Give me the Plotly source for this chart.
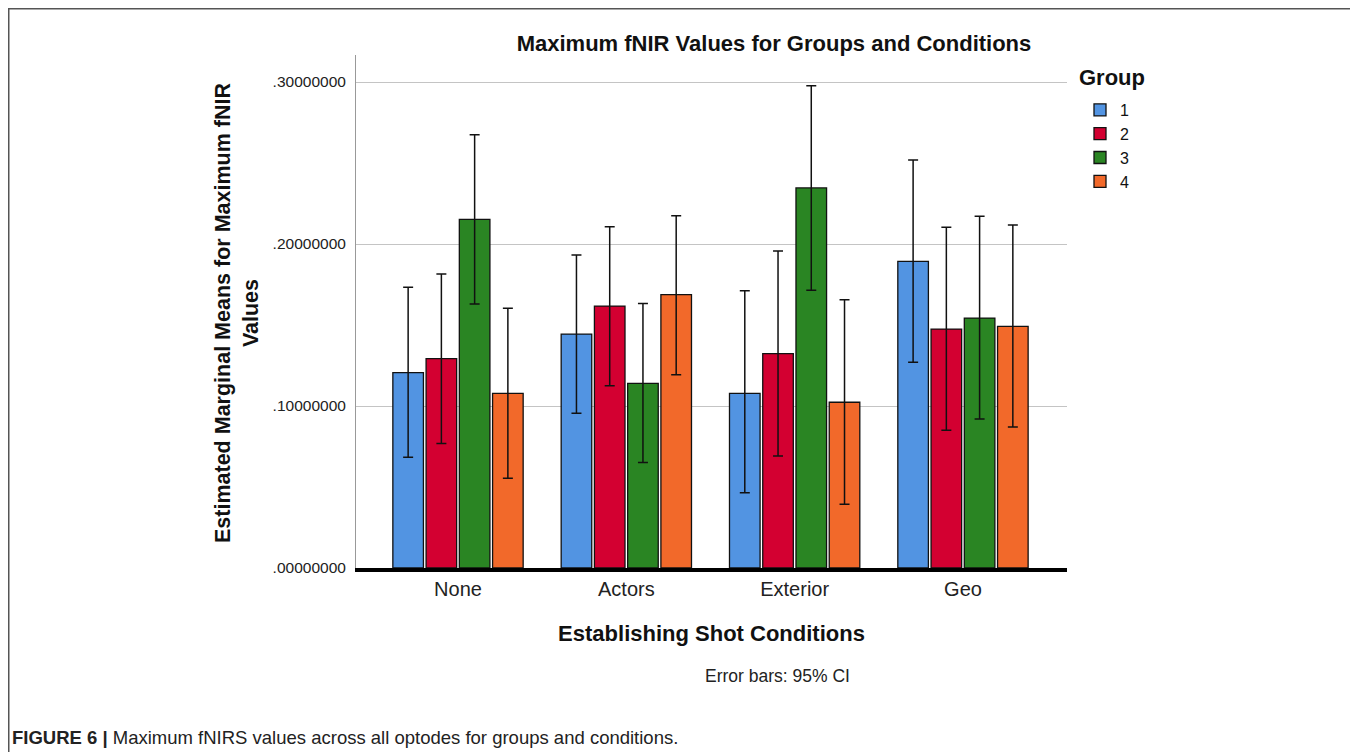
import plotly.graph_objects as go

# ---- data ----
conditions = ["None", "Actors", "Exterior", "Geo"]
groups = ["1", "2", "3", "4"]
means = {
    "1": [0.1206, 0.1444, 0.1078, 0.1893],
    "2": [0.1292, 0.1617, 0.1323, 0.1475],
    "3": [0.2152, 0.1140, 0.2346, 0.1543],
    "4": [0.1078, 0.1687, 0.1023, 0.1492],
}
ci_upper = {
    "1": [0.1733, 0.1932, 0.1712, 0.2519],
    "2": [0.1815, 0.2107, 0.1957, 0.2103],
    "3": [0.2675, 0.1632, 0.2977, 0.2171],
    "4": [0.1603, 0.2175, 0.1656, 0.2117],
}
ci_lower = {
    "1": [0.0683, 0.0955, 0.0465, 0.1270],
    "2": [0.0768, 0.1125, 0.0691, 0.0850],
    "3": [0.1630, 0.0652, 0.1714, 0.0920],
    "4": [0.0554, 0.1193, 0.0393, 0.0870],
}
y_tickvals = [0.0, 0.1, 0.2, 0.3]
y_ticktext = [".00000000", ".10000000", ".20000000", ".30000000"]

colors = {"1": "#5294e2", "2": "#d30031", "3": "#2a8523", "4": "#f2692a"}

# ---- layout geometry (reference-page pixels; page body has an 8px margin) ----
OFF = 8
W, H = 1358 - OFF, 752 - OFF
L, R, T, B = 356, 1067, 55, 568  # page pixels of the plot area
PW, PH = R - L, B - T


def px(x):
    return (x - L) / PW


def py(y):
    return (B - y) / PH


FONT = "Liberation Sans, Arial, sans-serif"

fig = go.Figure()
for g in groups:
    fig.add_trace(go.Bar(
        name=g,
        x=conditions,
        y=means[g],
        marker=dict(color=colors[g], line=dict(color="#111111", width=1.3)),
        error_y=dict(
            type="data",
            symmetric=False,
            array=[u - m for u, m in zip(ci_upper[g], means[g])],
            arrayminus=[m - lo for m, lo in zip(means[g], ci_lower[g])],
            color="#111111",
            thickness=1.5,
            width=5,
        ),
    ))

fig.update_layout(
    width=W,
    height=H,
    paper_bgcolor="white",
    plot_bgcolor="white",
    margin=dict(l=L - OFF, r=W - (R - OFF), t=T - OFF, b=H - (B - OFF), autoexpand=False),
    barmode="group",
    bargap=0.21,
    bargroupgap=0.08,
    font=dict(family=FONT, color="#111111"),
    showlegend=True,
    legend=dict(
        x=px(1080), y=py(93), xanchor="left", yanchor="top",
        font=dict(size=16, family=FONT, color="#111111"),
        bgcolor="rgba(0,0,0,0)",
        tracegroupgap=0,
        itemwidth=30,
    ),
    xaxis=dict(
        type="category",
        range=[-0.606, 3.618],
        showline=True, linecolor="#000000", linewidth=4,
        showgrid=False, ticks="",
        tickfont=dict(size=20, family=FONT, color="#222222"),
        title=dict(text="<b>Establishing Shot Conditions</b>",
                   font=dict(size=22, family=FONT, color="#111111"),
                   standoff=28),
        zeroline=False,
    ),
    yaxis=dict(
        range=[0, (B - T) / 1620],
        tickvals=y_tickvals,
        ticktext=y_ticktext,
        tickfont=dict(size=15.5, family=FONT, color="#222222"),
        showgrid=True, gridcolor="#c4c4c4", gridwidth=1,
        showline=True, linecolor="#999999", linewidth=1,
        ticks="", ticklabelstandoff=6,
        zeroline=False,
    ),
    title=dict(
        text="<b>Maximum fNIR Values for Groups and Conditions</b>",
        x=px(774), xanchor="center", y=1 - (43 - OFF) / H, yanchor="middle",
        xref="paper",
        font=dict(size=22, family=FONT, color="#111111"),
    ),
)

annotations = [
    dict(text="<b>Estimated Marginal Means for Maximum fNIR<br>Values</b>",
         x=px(237), y=py(313), xref="paper", yref="paper",
         textangle=-90, showarrow=False, align="center",
         xanchor="center", yanchor="middle",
         font=dict(size=21.5, family=FONT, color="#111111")),
    dict(text="<b>Group</b>", x=px(1077), y=py(77), xref="paper", yref="paper",
         showarrow=False, xanchor="left", yanchor="middle",
         font=dict(size=22, family=FONT, color="#111111")),
    dict(text="Error bars: 95% CI", x=px(703), y=py(676), xref="paper", yref="paper",
         showarrow=False, xanchor="left", yanchor="middle",
         font=dict(size=17.5, family=FONT, color="#222222")),
    dict(text="<b>FIGURE 6 |</b> Maximum fNIRS values across all optodes for groups and conditions.",
         x=px(10), y=py(737), xref="paper", yref="paper",
         showarrow=False, xanchor="left", yanchor="middle",
         font=dict(size=18.5, family=FONT, color="#222222")),
]
fig.update_layout(annotations=annotations)

fig.add_shape(type="rect", xref="paper", yref="paper",
              x0=px(8.5), x1=px(1355), y0=py(770), y1=py(8.5),
              line=dict(color="#555555", width=2), fillcolor="rgba(0,0,0,0)",
              layer="above")

fig.write_html("out.html")
